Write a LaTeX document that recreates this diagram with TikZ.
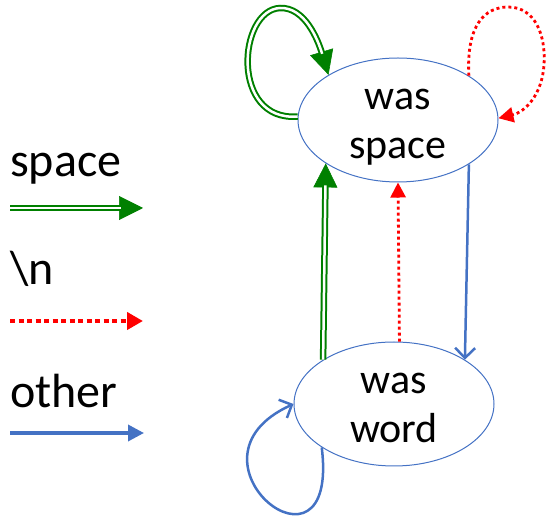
\documentclass[tikz,border=0pt]{standalone}
\usepackage{fontspec}
\setmainfont{Carlito}
\usetikzlibrary{shapes.geometric,arrows.meta}
\definecolor{gr}{RGB}{0,128,0}
\definecolor{bl}{RGB}{68,114,196}
\definecolor{rd}{RGB}{255,0,0}
\tikzset{
  stateell/.style={ellipse, draw=bl, line width=1pt, minimum width=200pt, minimum height=124pt, inner sep=0pt},
  sttext/.style={anchor=base, inner sep=0pt, font=\fontsize{42}{49}\selectfont},
  legtext/.style={anchor=base west, inner sep=0pt, font=\fontsize{48}{56}\selectfont},
  gtip/.style={gr, line width=0.6pt, -{Triangle[length=24pt,width=24pt]}},
  gdouble/.style={draw=gr, line width=2pt, double=white, double distance=2.5pt, shorten >=22pt},
  rdot/.style={rd, line width=2.8pt, dash pattern=on 3pt off 3pt, -{Triangle[length=15pt,width=15pt]}},
  rdotleg/.style={rd, line width=4pt, dash pattern=on 5pt off 3.5pt, -{Triangle[length=16pt,width=17pt]}},
  bline/.style={bl, line width=2.5pt, -{Straight Barb[length=10pt,width=20pt]}},
  blineleg/.style={bl, line width=3.5pt, -{Triangle[length=16pt,width=16pt]}},
}
\begin{document}
\begin{tikzpicture}[x=1pt,y=-1pt]
\useasboundingbox (0,0) rectangle (547,518);
% states
\node[stateell] (sp) at (398,120) {};
\node[stateell] (wd) at (394,404) {};
\node[sttext] (sp1) at (398,110) {was};
\node[sttext] (sp2) at (398,159) {space};
\node[sttext] (wd1) at (394,394) {was};
\node[sttext] (wd2) at (394,443) {word};
% legend
\node[legtext] (lg1) at (10,177) {space};
\node[legtext] (lg2) at (10,285) {\textbackslash n};
\node[legtext] (lg3) at (10,408) {other};
\coordinate (g1) at (10,208);
\coordinate (g2) at (143,208);
\coordinate (r1) at (10,321);
\coordinate (r2) at (143,321);
\coordinate (b1) at (10,433);
\coordinate (b2) at (144,433);
\draw[gtip] (g1) -- (g2);
\draw[gdouble] (g1) -- (g2);
\draw[rdotleg] (r1) -- (r2);
\draw[blineleg] (b1) -- (b2);
% green self loop on space
\draw[gtip] (sp.178) .. controls (230,122) and (238,10) .. (280,8) .. controls (305,7) and (318,40) .. (sp.147.6);
\draw[gdouble] (sp.178) .. controls (230,122) and (238,10) .. (280,8) .. controls (305,7) and (318,40) .. (sp.147.6);
% red self loop on space
\draw[rdot] (sp.32.4) .. controls (466,25) and (485,7) .. (508,7) .. controls (535,7) and (546,35) .. (544,65) .. controls (542,95) and (525,112) .. (sp.1);
% word -> space (green)
\draw[gtip] (wd.148.2) -- (sp.211.2);
\draw[gdouble] (wd.148.2) -- (sp.211.2);
% word -> space (red)
\draw[rdot] (wd.85) -- (sp.270);
% space -> word (blue)
\draw[bline] (sp.328.8) -- (wd.32);
% blue self loop on word
\draw[bline] (wd.211.8) .. controls (340,595) and (170,460) .. (wd.180);
\end{tikzpicture}
\end{document}
